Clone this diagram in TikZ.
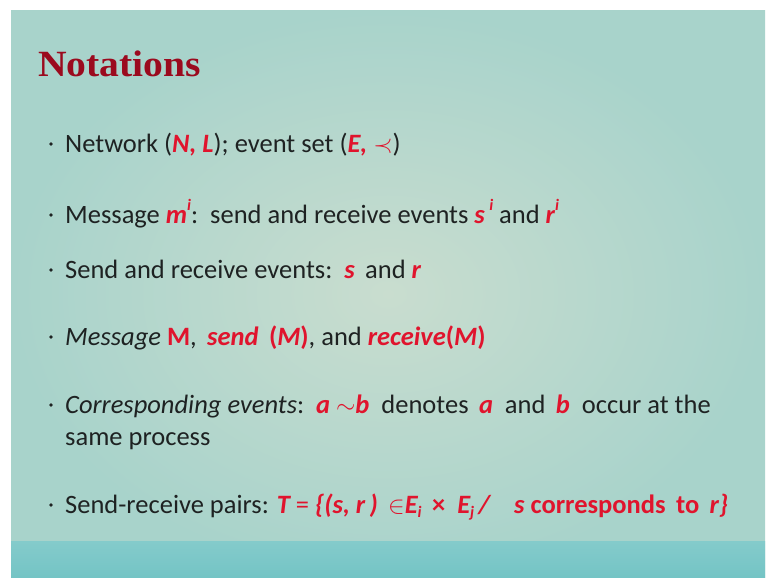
\documentclass[tikz,border=0pt]{standalone}
\usepackage{fontspec}
\setmainfont{Carlito}
\newfontfamily\titlefont{Liberation Serif}
\definecolor{slideedge}{HTML}{A8D3CB}
\definecolor{slidecenter}{HTML}{C9DDCF}
\definecolor{bartop}{HTML}{84CBCB}
\definecolor{barbottom}{HTML}{74C4C5}
\definecolor{titlered}{HTML}{9B0A1E}
\definecolor{hl}{HTML}{E0142D}
\definecolor{ink}{HTML}{1E2222}
% highlighted (red) notation
\newcommand{\hlbi}[1]{\textcolor{hl}{\bfseries\itshape #1}}
\newcommand{\hlb}[1]{\textcolor{hl}{\bfseries #1}}
\newcommand{\supi}[1]{\raisebox{0.48em}{\fontsize{16}{16}\selectfont\itshape #1}}
\newcommand{\subi}[1]{\raisebox{-0.18em}{\fontsize{16}{16}\selectfont\itshape #1}}
\begin{document}
\begin{tikzpicture}[x=1pt,y=-1pt,
  bodytext/.style={anchor=base west, inner sep=0pt, text=ink,
    font=\fontsize{26.5}{30}\selectfont},
  bulletdot/.style={circle, fill=ink, inner sep=0pt, minimum size=3.8pt},
  titletext/.style={anchor=base west, inner sep=0pt, text=titlered,
    font=\titlefont\bfseries\fontsize{37}{40}\selectfont}]
  \useasboundingbox (0,0) rectangle (767,578);
  \fill[white] (0,0) rectangle (767,578);
  % slide background
  \shade[inner color=slidecenter, outer color=slideedge] (11,11) rectangle (765,577);
  % footer band
  \shade[top color=bartop, bottom color=barbottom] (11,541) rectangle (765,577);

  % title
  \node[titletext, xscale=1.07] (title) at (38,76) {Notations};

  % bullet list
  \node[bulletdot] (d1) at (51,144) {};
  \node[bodytext] (l1) at (65,152)
    {Network (\hlbi{N, L}); event set (\hlbi{E,} \textcolor{hl}{$\prec$})};

  \node[bulletdot] (d2) at (51,215) {};
  \node[bodytext] (l2) at (65,223)
    {Message \hlbi{m\supi{i}}:\ \ send and receive events \hlbi{s\,\supi{i}} and \hlbi{r\supi{i}}};

  \node[bulletdot] (d3) at (51,270) {};
  \node[bodytext] (l3) at (65,278)
    {Send and receive events:\ \ \hlbi{s}\, and \hlbi{r}};

  \node[bulletdot] (d4) at (51,337) {};
  \node[bodytext] (l4) at (65,345)
    {\itshape Message \hlb{\upshape M}\upshape,\, \hlbi{send}\, \hlb{(\itshape M\upshape)}, and \hlbi{receive}\hlb{(\itshape M\upshape)}};

  \node[bulletdot] (d5) at (51,405) {};
  \node[bodytext] (l5) at (65,413)
    {\itshape Corresponding events\upshape:\ \ \hlbi{a} \textcolor{hl}{$\sim$}\hlbi{b}\ \ denotes\, \hlbi{a}\ \ and\, \hlbi{b}\ \ occur at the};
  \node[bodytext] (l5b) at (65,445) {same process};

  \node[bulletdot] (d6) at (51,505) {};
  \node[bodytext] (l6) at (65,513)
    {Send-receive pairs: \hlbi{T} \textcolor{hl}{= \bfseries\itshape\{(s, r\,)\ \,$\in$E\subi{i}\ \,\upshape ×\ \ \itshape E\subi{j}\,/\ \ \ \ s\ \upshape corresponds\, to\, \itshape r\}}};
\end{tikzpicture}
\end{document}
